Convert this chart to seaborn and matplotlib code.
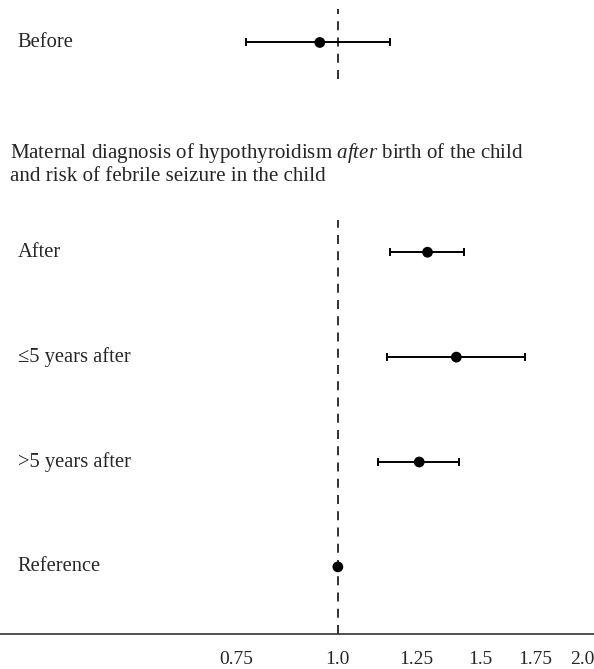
#!/usr/bin/env python
"""Forest plot: maternal hypothyroidism and risk of febrile seizure in the child."""

import matplotlib

matplotlib.use("Agg")
import matplotlib.pyplot as plt
import pandas as pd
import seaborn as sns

# rows, bottom to top (row 4 holds the section heading)
labels = ["Reference", ">5 years after", "\u22645 years after", "After", "Before"]
rows = [0, 1, 2, 3, 5]
hr = [1.00, 1.26, 1.40, 1.29, 0.95]
ci_low = [1.00, 1.12, 1.15, 1.16, 0.77]
ci_high = [1.00, 1.41, 1.70, 1.43, 1.16]

xticks = [0.75, 1.0, 1.25, 1.5, 1.75, 2.0]
xtick_labels = ["0.75", "1.0", "1.25", "1.5", "1.75", "2.0"]


def main() -> None:
    df = pd.DataFrame(
        {"label": labels, "row": rows, "hr": hr, "lo": ci_low, "hi": ci_high}
    )

    sns.set_style("white")
    plt.rcParams["font.family"] = ["Liberation Serif", "DejaVu Serif"]
    plt.rcParams["mathtext.fontset"] = "custom"
    plt.rcParams["mathtext.rm"] = "Liberation Serif"
    plt.rcParams["mathtext.it"] = "Liberation Serif:italic"

    fig = plt.figure(figsize=(5.94, 6.69), dpi=100)
    ax = fig.add_axes([0, 35 / 669, 1, 634 / 669])
    ax.set_xscale("log")

    # reference line at HR = 1, split around the heading
    ax.plot([1, 1], [4.65, 5.32], color="#222222", lw=1.3, ls=(0, (5, 4)))
    ax.plot([1, 1], [-0.64, 3.31], color="#222222", lw=1.3, ls=(0, (5, 4)))

    ci = df[df["lo"] < df["hi"]]
    ax.errorbar(
        ci["hr"],
        ci["row"],
        xerr=[ci["hr"] - ci["lo"], ci["hi"] - ci["hr"]],
        fmt="none",
        ecolor="black",
        elinewidth=1.4,
        capsize=3,
        capthick=1.4,
        zorder=2,
    )
    sns.scatterplot(
        data=df, x="hr", y="row", s=60, color="black", edgecolor="none",
        zorder=3, ax=ax,
    )

    for _, r in df.iterrows():
        ax.text(0.03, r["row"], r["label"], transform=ax.get_yaxis_transform(),
                ha="left", va="center", fontsize=14.8)

    ax.text(
        0.017, 3.845,
        "Maternal diagnosis of hypothyroidism $after$ birth of the child\n"
        "and risk of febrile seizure in the child",
        transform=ax.get_yaxis_transform(), ha="left", va="center",
        fontsize=15.1, linespacing=1.12,
    )

    ax.set_xlim(0.383, 2.07)
    ax.set_ylim(-0.64, 5.405)
    ax.set_xticks(xticks)
    ax.set_xticklabels(xtick_labels)
    ax.minorticks_off()
    ax.set_yticks([])
    ax.set_xlabel("")
    ax.set_ylabel("")
    sns.despine(ax=ax, left=True, top=True, right=True)
    ax.spines["bottom"].set_linewidth(1.2)
    ax.spines["bottom"].set_color("#333333")
    ax.tick_params(axis="x", direction="out", length=6, width=1.2,
                   color="#333333", labelsize=14, pad=6.5)

    fig.savefig("out.png", dpi=100)
    plt.close(fig)


if __name__ == "__main__":
    main()
